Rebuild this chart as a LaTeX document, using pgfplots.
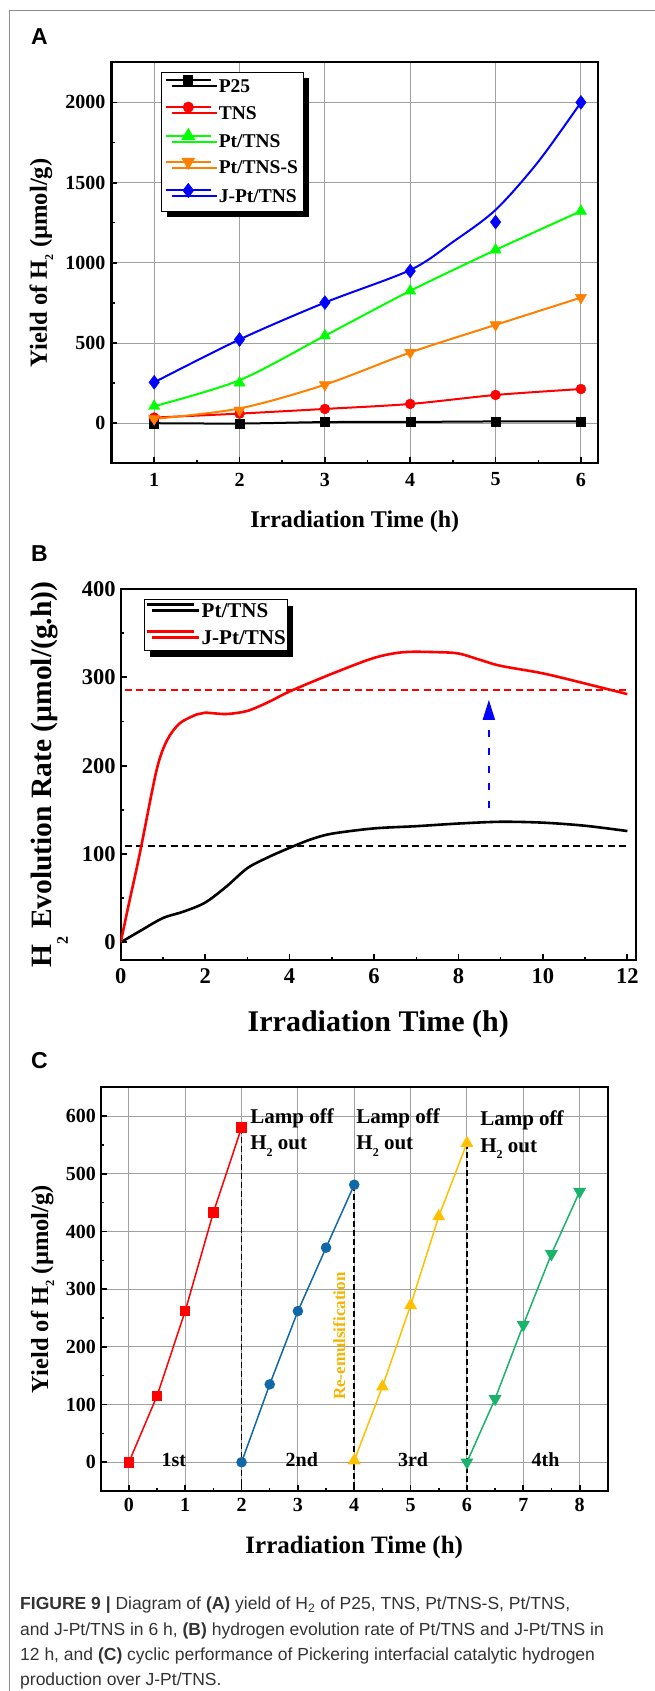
\documentclass[border=0pt]{standalone}
\usepackage{pgfplots}
\pgfplotsset{compat=1.18}
\usepackage{fontspec}
\setmainfont{Liberation Serif}
\newfontfamily\capfont{Liberation Sans}
\usetikzlibrary{shadows,arrows.meta}

\definecolor{cRed}{HTML}{FF0000}
\definecolor{cGreen}{HTML}{00FF00}
\definecolor{cOrange}{HTML}{FF8000}
\definecolor{cBlue}{HTML}{0000FF}
\definecolor{cyRed}{HTML}{FF0000}
\definecolor{cyBlue}{HTML}{1168A6}
\definecolor{cyAmber}{HTML}{FFC000}
\definecolor{cyText}{HTML}{F5B400}
\definecolor{cyGreen}{HTML}{19B36B}
\definecolor{capgray}{HTML}{333333}
\definecolor{gridgray}{HTML}{A0A0A0}
\definecolor{framegray}{HTML}{8C8C8C}

\pgfplotsset{
  myaxis/.style={
    scale only axis,
    anchor=south west,
    tick align=inside,
    tick pos=left,
    axis line style={line width=2.2pt},
    major tick length=6pt, minor tick length=3.5pt,
    major tick style={line width=1.8pt, black},
    minor tick style={line width=1.5pt, black},
    /pgf/number format/assume math mode=true,
    /pgf/number format/set thousands separator={},
    xlabel style={anchor=base},
    ylabel style={anchor=base},
  }
}

\begin{document}
\begin{tikzpicture}
\useasboundingbox (0pt,0pt) rectangle (655pt,-1691pt);
% frame
\draw[framegray, line width=1pt] (9.2pt,-1691pt) -- (9.2pt,-10.5pt) -- (655pt,-10.5pt);
% panel letters
\node[anchor=base west, inner sep=0pt, font=\capfont\bfseries\fontsize{23}{23}\selectfont] at (31pt,-45pt) {A};
\node[anchor=base west, inner sep=0pt, font=\capfont\bfseries\fontsize{23}{23}\selectfont] at (31pt,-561.7pt) {B};
\node[anchor=base west, inner sep=0pt, font=\capfont\bfseries\fontsize{23}{23}\selectfont] at (31pt,-1068pt) {C};

%================ Panel A
\begin{axis}[myaxis,
  at={(111.5pt,-463.3pt)}, width=486.5pt, height=401pt,
  xmin=0.5, xmax=6.2, ymin=-250, ymax=2250,
  xtick={1,2,3,4,5,6}, minor xtick={1.5,2.5,3.5,4.5,5.5},
  ytick={0,500,1000,1500,2000}, minor ytick={250,750,1250,1750},
  grid=major, major grid style={draw=gridgray, line width=1pt},
  ticklabel style={font=\fontsize{20}{24}\selectfont\bfseries},
  xticklabel style={yshift=-6pt},
  yticklabel style={xshift=-2.5pt},
  xlabel={Irradiation Time (h)},
  xlabel style={font=\fontsize{24}{28}\selectfont\bfseries, at={(axis description cs:0.5,-0.1613)}},
  ylabel={Yield of H\raisebox{-0.25em}{\fontsize{12}{12}\selectfont 2} (µmol/g)},
  ylabel style={font=\fontsize{24.6}{28}\selectfont\bfseries, at={(axis description cs:-0.1326,0.5)}},
  legend cell align=left,
  legend image code/.code={\draw[mark repeat=2,mark phase=2,#1] plot coordinates {(0pt,6.5pt) (22.5pt,6.5pt) (45pt,6.5pt)};},
  legend style={at={(0.1013,0.9766)}, anchor=north west, draw=black, line width=0.8pt, fill=white,
    drop shadow={shadow xshift=6pt, shadow yshift=-6pt, fill=black, opacity=1},
    font=\fontsize{19.5}{22}\selectfont\bfseries,
    inner xsep=3.6pt, inner ysep=4pt, row sep=6.1pt,
    nodes={inner sep=1.5pt, text height=14pt, text depth=3pt},
    /tikz/every odd column/.append style={column sep=5.5pt}},
]
% curves
\addplot[black, line width=2pt, smooth, forget plot] coordinates {(1,0)(2,-2)(3,7)(4,8)(5,11)(6,12)};
\addplot[cRed, line width=2pt, smooth, forget plot] coordinates {(1,35)(2,60)(3,89)(4,120)(5,176)(6,213)};
\addplot[cGreen, line width=2pt, smooth, forget plot] coordinates {(1,106)(2,268)(3,545)(4,825)(5,1080)(6,1322)};
\addplot[cOrange, line width=2pt, smooth, forget plot] coordinates {(1,27)(2,92)(3,240)(4,441)(5,613)(6,783)};
\addplot[cBlue, line width=2pt, smooth, forget plot] coordinates {(1,255)(2,522)(3,752)(4,955)(4.5,1130)(5,1330)(5.5,1630)(6,2000)};
% markers
\addplot[only marks, mark=square*, mark size=4.5pt, black, forget plot] coordinates {(1,0)(2,-2)(3,7)(4,8)(5,11)(6,12)};
\addplot[only marks, mark=*, mark size=5pt, cRed, forget plot] coordinates {(1,35)(2,60)(3,89)(4,120)(5,176)(6,213)};
\addplot[only marks, mark=triangle*, mark size=6.5pt, cGreen, forget plot] coordinates {(1,106)(2,251)(3,545)(4,825)(5,1080)(6,1322)};
\addplot[only marks, mark=triangle*, mark size=6.5pt, mark options={rotate=180}, cOrange, forget plot] coordinates {(1,27)(2,81)(3,240)(4,441)(5,613)(6,783)};
\addplot[only marks, mark=diamond*, mark size=7pt, cBlue, forget plot] coordinates {(1,255)(2,522)(3,752)(4,949)(5,1254)(6,2000)};
% legend
\addlegendimage{black, line width=2pt, mark=square*, mark size=4pt}
\addlegendentry{P25}
\addlegendimage{cRed, line width=2pt, mark=*, mark size=4.5pt}
\addlegendentry{TNS}
\addlegendimage{cGreen, line width=2pt, mark=triangle*, mark size=6pt}
\addlegendentry{Pt/TNS}
\addlegendimage{cOrange, line width=2pt, mark=triangle*, mark size=6pt, mark options={rotate=180}}
\addlegendentry{Pt/TNS-S}
\addlegendimage{cBlue, line width=2pt, mark=diamond*, mark size=6pt}
\addlegendentry{J-Pt/TNS}
\end{axis}

%================ Panel B
\begin{axis}[myaxis,
  at={(120.7pt,-960pt)}, width=515.1pt, height=371pt,
  xmin=0, xmax=12.2, ymin=-20, ymax=400,
  xtick={0,2,4,6,8,10,12}, minor xtick={1,3,5,7,9,11},
  ytick={0,100,200,300,400}, minor ytick={50,150,250,350},
  ticklabel style={font=\fontsize{22.5}{26}\selectfont\bfseries},
  xticklabel style={yshift=-5pt},
  yticklabel style={xshift=-1.5pt},
  xlabel={Irradiation Time (h)},
  xlabel style={font=\fontsize{30}{34}\selectfont\bfseries, at={(axis description cs:0.5,-0.1927)}},
  ylabel={H\raisebox{-0.55em}{\fontsize{16}{16}\selectfont 2} Evolution Rate (µmol/(g.h))},
  ylabel style={font=\fontsize{29.5}{34}\selectfont\bfseries, at={(axis description cs:-0.1343,0.5)}},
  legend cell align=left,
  legend image code/.code={\draw[#1] (0pt,7pt) -- (47pt,7pt);},
  legend style={at={(0.0462,0.9722)}, anchor=north west, draw=black, line width=0.8pt, fill=white,
    drop shadow={shadow xshift=5.5pt, shadow yshift=-6pt, fill=black, opacity=1},
    font=\fontsize{21}{24}\selectfont\bfseries,
    inner xsep=0.3pt, inner ysep=1.6pt, row sep=5.4pt,
    nodes={inner sep=1.5pt, text height=15pt, text depth=3.2pt},
    /tikz/every odd column/.append style={column sep=5pt}},
]
\addplot[cRed, line width=1.4pt, dash pattern=on 7pt off 4.5pt, forget plot] coordinates {(0.1,285.5)(12.05,285.5)};
\addplot[black, line width=1.4pt, dash pattern=on 7pt off 4.5pt, forget plot] coordinates {(0.1,109)(12.05,109)};
\addplot[black, line width=2.6pt, smooth, forget plot] coordinates {
 (0,0)(0.5,14)(1,27.5)(1.5,35)(2,45)(2.5,63)(3,84)(3.5,96.5)(4,107)(4.5,116.5)(5,123)(6,129)(7,131.5)(8,134.5)(9,136.5)(10,135.5)(11,132)(12,126)};
\addplot[cRed, line width=2.6pt, smooth, forget plot] coordinates {
 (0,0)(0.2,45)(0.45,100)(0.85,195)(1.1,229)(1.4,248)(1.8,258)(2.0,260)(2.5,258.5)(3,262)(3.5,272)(4,284)(5,304)(6,322)(6.7,328.5)(7.5,328.5)(8,327)(8.5,320)(9,313)(10,304.5)(11,293)(12,281)};
\addplot[cBlue, line width=1.8pt, dash pattern=on 7pt off 10.7pt, -{Triangle[length=20pt,width=12pt]}, forget plot] coordinates {(8.72,152)(8.72,274.5)};
\addlegendimage{black, line width=3pt}
\addlegendentry{Pt/TNS}
\addlegendimage{cRed, line width=3pt}
\addlegendentry{J-Pt/TNS}
\end{axis}

%================ Panel C
\begin{axis}[myaxis,
  at={(100.7pt,-1491.1pt)}, width=507.1pt, height=403.9pt,
  xmin=-0.5, xmax=8.5, ymin=-50, ymax=650,
  xtick={0,1,2,3,4,5,6,7,8}, minor xtick={0.5,1.5,2.5,3.5,4.5,5.5,6.5,7.5},
  ytick={0,100,200,300,400,500,600}, minor ytick={50,150,250,350,450,550},
  grid=major, major grid style={draw=gridgray, line width=1pt},
  ticklabel style={font=\fontsize{20}{24}\selectfont\bfseries},
  xticklabel style={yshift=-4pt},
  yticklabel style={xshift=-1.3pt},
  xlabel={Irradiation Time (h)},
  xlabel style={font=\fontsize{25}{29}\selectfont\bfseries, at={(axis description cs:0.5,-0.1533)}},
  ylabel={Yield of H\raisebox{-0.25em}{\fontsize{12.5}{12.5}\selectfont 2} (µmol/g)},
  ylabel style={font=\fontsize{24.5}{28}\selectfont\bfseries, at={(axis description cs:-0.1039,0.5)}},
]
\addplot[black, line width=1.8pt, dash pattern=on 6pt off 3pt] coordinates {(2,580)(2,-50)};
\addplot[black, line width=1.8pt, dash pattern=on 6pt off 3pt] coordinates {(4,481)(4,-50)};
\addplot[black, line width=1.8pt, dash pattern=on 6pt off 3pt] coordinates {(6,553)(6,-50)};
\addplot[cyRed, line width=1.5pt, mark=square*, mark size=4.5pt] coordinates {(0,0)(0.5,115)(1,262)(1.5,433)(2,580)};
\addplot[cyBlue, line width=1.5pt, mark=*, mark size=4.5pt] coordinates {(2,0)(2.5,135)(3,262)(3.5,372)(4,481)};
\addplot[cyAmber, line width=1.5pt, mark=triangle*, mark size=6pt] coordinates {(4,3)(4.5,131)(5,272)(5.5,426)(6,553)};
\addplot[cyGreen, line width=1.5pt, mark=triangle*, mark size=6pt, mark options={rotate=180}] coordinates {(6,0)(6.5,110)(7,238)(7.5,361)(8,469)};
\node[anchor=base west, inner sep=0pt, font=\fontsize{21}{21}\selectfont\bfseries] at (axis cs:2.153,587.4) {Lamp off};
\node[anchor=base west, inner sep=0pt, font=\fontsize{21}{21}\selectfont\bfseries] at (axis cs:2.153,541.2) {H\raisebox{-0.3em}{\fontsize{12}{12}\selectfont 2} out};
\node[anchor=base west, inner sep=0pt, font=\fontsize{21}{21}\selectfont\bfseries] at (axis cs:4.036,587.4) {Lamp off};
\node[anchor=base west, inner sep=0pt, font=\fontsize{21}{21}\selectfont\bfseries] at (axis cs:4.036,541.2) {H\raisebox{-0.3em}{\fontsize{12}{12}\selectfont 2} out};
\node[anchor=base west, inner sep=0pt, font=\fontsize{21}{21}\selectfont\bfseries] at (axis cs:6.233,584.5) {Lamp off};
\node[anchor=base west, inner sep=0pt, font=\fontsize{21}{21}\selectfont\bfseries] at (axis cs:6.233,537.7) {H\raisebox{-0.3em}{\fontsize{12}{12}\selectfont 2} out};
\node[anchor=base west, inner sep=0pt, font=\fontsize{20}{20}\selectfont\bfseries] at (axis cs:0.577,-8) {1st};
\node[anchor=base west, inner sep=0pt, font=\fontsize{20}{20}\selectfont\bfseries] at (axis cs:2.78,-8) {2nd};
\node[anchor=base west, inner sep=0pt, font=\fontsize{20}{20}\selectfont\bfseries] at (axis cs:4.774,-8) {3rd};
\node[anchor=base west, inner sep=0pt, font=\fontsize{20}{20}\selectfont\bfseries] at (axis cs:7.144,-8) {4th};
\node[rotate=90, anchor=base, inner sep=0pt, text=cyText, font=\fontsize{17}{17}\selectfont\bfseries] at (axis cs:3.838,218.4) {Re-emulsification};
\end{axis}

%================ Caption
\begin{scope}[every node/.style={anchor=base west, inner sep=0pt, text=capgray, font=\capfont\fontsize{17.5}{20}\selectfont}]
\node at (20pt,-1609.5pt) {\textbf{FIGURE 9 |} Diagram of \textbf{(A)} yield of H\textsubscript{2} of P25, TNS, Pt/TNS-S, Pt/TNS,};
\node at (20pt,-1635pt) {and J-Pt/TNS in 6 h, \textbf{(B)} hydrogen evolution rate of Pt/TNS and J-Pt/TNS in};
\node at (20pt,-1660pt) {12 h, and \textbf{(C)} cyclic performance of Pickering interfacial catalytic hydrogen};
\node at (20pt,-1685pt) {production over J-Pt/TNS.};
\end{scope}
\end{tikzpicture}
\end{document}
